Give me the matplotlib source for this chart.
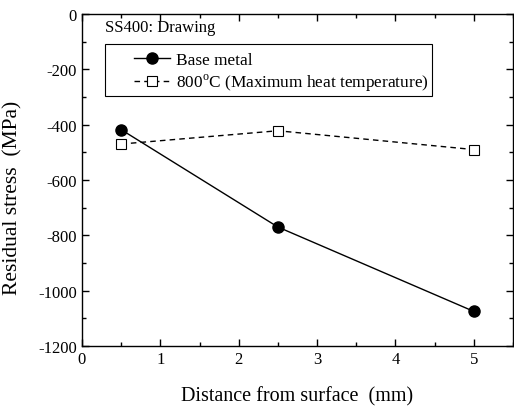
import matplotlib

matplotlib.use("Agg")

import matplotlib.pyplot as plt
from matplotlib.patches import Rectangle
from matplotlib.ticker import MultipleLocator

plt.rcParams["font.family"] = ["Liberation Serif", "DejaVu Serif"]
plt.rcParams["mathtext.fontset"] = "custom"
plt.rcParams["mathtext.rm"] = "Liberation Serif"
plt.rcParams["axes.unicode_minus"] = False

depth = [0.5, 2.5, 5.0]
base_metal = [-418, -770, -1075]
heated_800 = [-470, -422, -490]

fig = plt.figure(figsize=(5.14, 4.10), dpi=100)
ax = fig.add_axes([0.1595, 0.1537, 0.8385, 0.8097])

ax.plot(depth, base_metal, "-o", color="black", lw=1.0, ms=8,
        label="Base metal")
ax.plot(depth, heated_800, "--s", color="black", lw=1.0, ms=6.5,
        mfc="white", mew=0.8, dashes=(4, 3),
        label=r"800$^{\rm o}$C (Maximum heat temperature)")

ax.set_xlim(0, 5.5)
ax.set_ylim(-1200, 0)
ax.xaxis.set_major_locator(MultipleLocator(1))
ax.xaxis.set_minor_locator(MultipleLocator(0.5))
ax.yaxis.set_major_locator(MultipleLocator(200))
ax.yaxis.set_minor_locator(MultipleLocator(100))
ax.tick_params(which="both", direction="in", top=True, right=True,
               labelsize=12)
ax.tick_params(which="major", length=5, width=1)
ax.tick_params(which="minor", length=3, width=1)
ax.set_xticks([0, 1, 2, 3, 4, 5])
for spine in ax.spines.values():
    spine.set_linewidth(1.0)

ax.set_xlabel("Distance from surface  (mm)", fontsize=14.5, labelpad=14)
ax.set_ylabel("Residual stress  (MPa)", fontsize=15.5)
ax.yaxis.set_label_coords(-0.137, 0.45)

ax.text(0.054, 0.985, "SS400: Drawing", transform=ax.transAxes,
        fontsize=12, va="top", ha="left")

# legend drawn without its own frame; box added as a plain rectangle
ax.add_patch(Rectangle((0.0534, 0.753), 0.7586, 0.1566,
                       transform=ax.transAxes, fill=False,
                       edgecolor="black", lw=0.8, zorder=3))
ax.legend(loc="upper left", bbox_to_anchor=(0.12, 0.885),
          fontsize=12.4, frameon=False, handlelength=2.1, borderpad=0,
          labelspacing=0.22, borderaxespad=0, handletextpad=0.35)

fig.savefig("out.png", dpi=100)
